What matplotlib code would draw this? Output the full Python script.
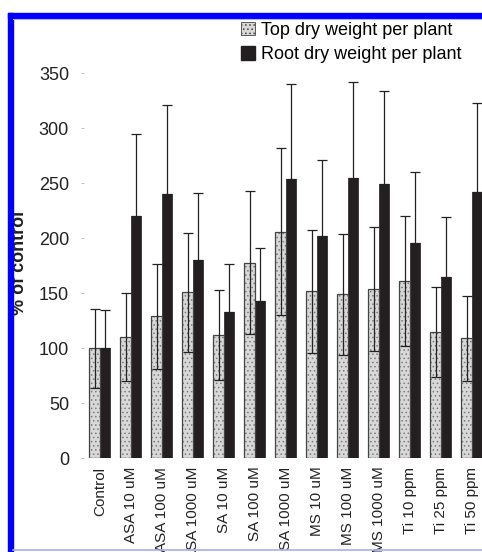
"""Top and root dry weight per plant as % of control, grouped bars."""

import matplotlib

matplotlib.use("Agg")
import matplotlib.pyplot as plt
from matplotlib.patches import Patch, Rectangle
from matplotlib.lines import Line2D
import numpy as np

plt.rcParams["font.family"] = ["Liberation Sans", "DejaVu Sans"]
plt.rcParams["hatch.linewidth"] = 0.6

treatments = [
    "Control", "ASA 10 uM", "ASA 100 uM", "ASA 1000 uM",
    "SA 10 uM", "SA 100 uM", "SA 1000 uM",
    "MS 10 uM", "MS 100 uM", "MS 1000 uM",
    "Ti 10 ppm", "Ti 25 ppm", "Ti 50 ppm",
]
top_weight = [100, 110, 129, 151, 112, 178, 206, 152, 149, 154, 161, 115, 109]
top_err = [36, 40, 48, 54, 41, 65, 76, 56, 55, 56, 59, 41, 39]
root_weight = [100, 220, 240, 180, 133, 143, 254, 202, 255, 249, 196, 165, 242]
root_err = [35, 75, 81, 61, 44, 48, 86, 69, 87, 85, 64, 54, 81]

W, H = 482, 552
fig = plt.figure(figsize=(W / 100, H / 100), dpi=100)
ax = fig.add_axes([84.3 / W, (H - 458.3) / H, 403 / W, 385 / H])

x = np.arange(len(treatments))
bw = 0.34

# top bars: stippled grey
ax.bar(x - bw / 2, top_weight, bw, color="#d8d8d8", edgecolor="#7c7c7c",
       hatch="....", linewidth=0, zorder=2)
ax.bar(x - bw / 2, top_weight, bw, fill=False, edgecolor="#444444",
       linewidth=0.9, zorder=3)
# root bars: black
ax.bar(x + bw / 2, root_weight, bw, color="#231f20", edgecolor="#231f20",
       linewidth=0.5, zorder=2)

ax.errorbar(x - bw / 2, top_weight, yerr=top_err, fmt="none", ecolor="#222222",
            elinewidth=0.9, capsize=3.5, capthick=0.9, zorder=4)
ax.errorbar(x + bw / 2, root_weight,
            yerr=[np.zeros(len(root_err)), root_err], fmt="none",
            ecolor="#222222", elinewidth=0.9, capsize=3.5, capthick=0.9, zorder=4)

ax.set_xlim(-0.5, len(treatments) - 0.5)
ax.set_ylim(0, 350)
ax.set_yticks(range(0, 351, 50))
ax.set_xticks(x)
ax.set_xticklabels(treatments, rotation=90, fontsize=11, color="#222222")
ax.tick_params(axis="y", labelsize=13, length=2, width=0.5, color="#aaaaaa",
               pad=9, labelcolor="#222222")
ax.tick_params(axis="x", length=0, pad=6)
for s in ax.spines.values():
    s.set_visible(False)

fig.text(20 / W, 1 - 263 / H, "% of control", rotation=90, fontsize=13,
         fontweight="bold", ha="center", va="center", color="#222222")

handles = [
    Patch(facecolor="#d8d8d8", edgecolor="#444444", hatch="....", linewidth=0.6),
    Patch(facecolor="#231f20", edgecolor="#231f20"),
]
fig.legend(handles, ["Top dry weight per plant", "Root dry weight per plant"],
           loc="upper left", bbox_to_anchor=(241 / W, 1 - 22 / H),
           frameon=False, fontsize=13, handlelength=0.75, handleheight=0.75,
           handletextpad=0.35, borderpad=0, borderaxespad=0, labelspacing=0.4)

# blue frame around the figure
fig.add_artist(Rectangle((8 / W, 0), 5 / W, 1 - 13 / H, transform=fig.transFigure,
                         color="#0000ff", zorder=10))
fig.add_artist(Rectangle((8 / W, 1 - 18 / H), 1, 5 / H, transform=fig.transFigure,
                         color="#0000ff", zorder=10))
fig.add_artist(Line2D([13 / W, 1], [1 - 18.5 / H, 1 - 18.5 / H], transform=fig.transFigure,
                      color="#b0b4f0", linewidth=0.8, zorder=10))
fig.add_artist(Line2D([13 / W, 1], [2 / H, 2 / H], transform=fig.transFigure,
                      color="#a8aef0", linewidth=1.2, zorder=10))

fig.savefig("out.png", dpi=100)
plt.close(fig)
